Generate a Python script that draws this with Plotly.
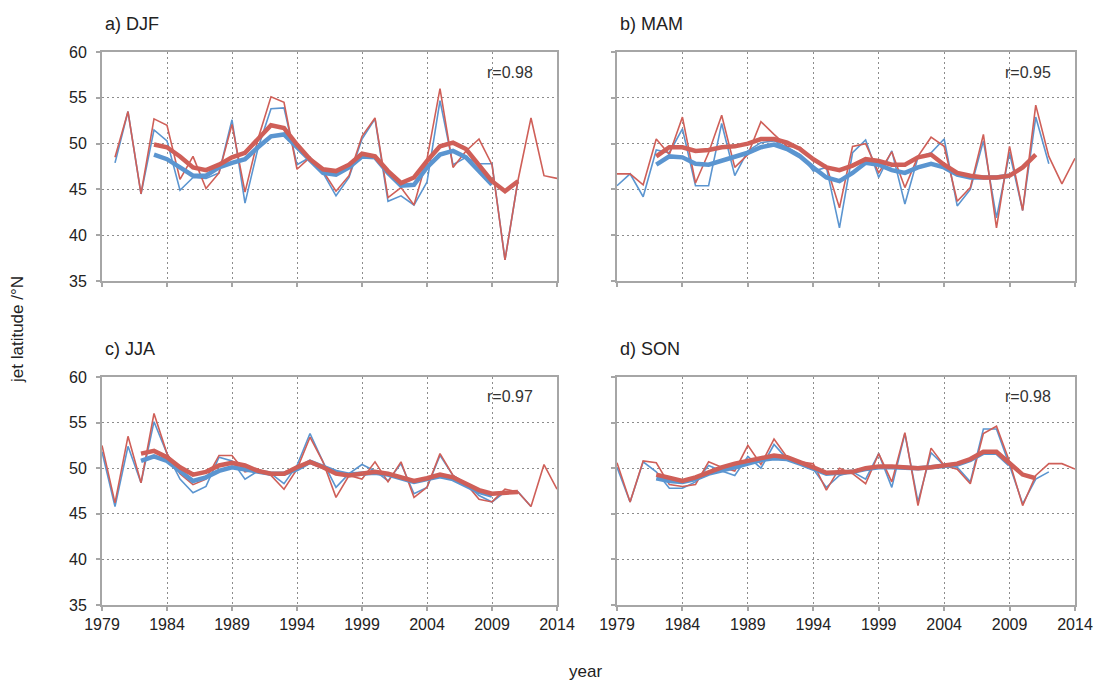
import plotly.graph_objects as go

years = list(range(1979, 2015))

# ---- DJF (panel a) ----
djf_years = list(range(1980, 2015))
djf_red = [48.5, 53.5, 44.5, 52.7, 52.0, 46.1, 48.6, 45.1, 46.8, 52.1, 44.7, 50.5, 55.1, 54.5, 47.2,
           48.5, 47.0, 44.8, 46.5, 50.8, 52.8, 44.1, 45.2, 43.3, 48.3, 56.0, 47.4, 49.2, 50.5, 47.7,
           37.3, 46.0, 52.8, 46.5, 46.2]
djf_blue_years = list(range(1980, 2012))
djf_blue = [47.9, 53.5, 44.5, 51.5, 50.3, 44.9, 46.3, 46.2, 46.8, 52.6, 43.5, 49.5, 53.8, 53.9, 47.7,
            48.5, 46.8, 44.3, 46.3, 50.5, 52.7, 43.7, 44.3, 43.3, 45.8, 54.7, 47.7, 48.5, 47.8, 47.8,
            37.3, 46.0]
djf_s_years = list(range(1983, 2012))
djf_red_s = [49.9, 49.6, 48.6, 47.4, 47.1, 47.7, 48.5, 49.0, 50.5, 52.0, 51.7, 49.9, 48.3, 47.2, 47.0,
             47.7, 48.9, 48.6, 47.0, 45.7, 46.3, 48.1, 49.7, 50.1, 49.4, 47.7, 45.9, 44.8, 45.9]
djf_sb_years = list(range(1983, 2010))
djf_blue_s = [48.8, 48.3, 47.4, 46.5, 46.5, 47.4, 47.9, 48.3, 49.6, 50.8, 51.0, 49.6, 48.1, 46.8, 46.6,
              47.4, 48.6, 48.5, 46.8, 45.4, 45.5, 47.4, 48.8, 49.2, 48.5, 47.0, 45.5]

# ---- MAM (panel b) ----
mam_red = [46.7, 46.7, 45.5, 50.5, 48.8, 52.9, 45.7, 49.0, 53.1, 47.4, 48.8, 52.4, 51.0, 49.7, 49.6,
           48.1, 47.6, 43.0, 49.7, 50.0, 46.8, 49.1, 45.2, 48.6, 50.7, 49.7, 43.7, 45.2, 51.0, 40.8,
           49.7, 42.7, 54.2, 48.6, 45.6, 48.4]
mam_blue_years = list(range(1979, 2013))
mam_blue = [45.4, 46.7, 44.2, 49.3, 49.0, 51.6, 45.4, 45.4, 52.2, 46.5, 49.2, 50.1, 50.3, 49.6, 48.8,
            47.0, 47.4, 40.8, 49.0, 50.4, 46.3, 49.2, 43.4, 48.5, 49.0, 50.5, 43.2, 45.0, 50.3, 41.9,
            49.0, 42.7, 52.9, 47.8]
mam_s_years = list(range(1982, 2012))
mam_red_s = [48.6, 49.6, 49.6, 49.2, 49.3, 49.6, 49.7, 50.0, 50.5, 50.5, 50.1, 49.4, 48.3, 47.4, 47.1,
             47.6, 48.3, 48.1, 47.7, 47.7, 48.5, 48.8, 47.7, 46.8, 46.5, 46.3, 46.3, 46.5, 47.4, 48.8]
mam_sb_years = list(range(1982, 2010))
mam_blue_s = [47.7, 48.6, 48.5, 47.8, 47.7, 48.1, 48.6, 49.0, 49.6, 49.9, 49.4, 48.6, 47.4, 46.3, 45.9,
              46.8, 47.9, 47.7, 47.1, 46.8, 47.4, 47.8, 47.4, 46.6, 46.3, 46.3, 46.3, 46.5]

# ---- JJA (panel c) ----
jja_red = [52.5, 46.2, 53.5, 48.4, 56.0, 51.6, 49.4, 48.2, 48.8, 51.4, 51.4, 49.6, 49.9, 49.2, 47.7,
           49.9, 53.4, 50.7, 46.8, 49.2, 48.8, 50.7, 48.5, 50.7, 46.8, 47.9, 51.6, 49.2, 48.3, 46.6,
           46.3, 47.7, 47.4, 45.8, 50.4, 47.7]
jja_blue_years = list(range(1979, 2013))
jja_blue = [51.8, 45.8, 52.4, 48.4, 55.1, 51.6, 48.8, 47.3, 48.0, 51.2, 50.8, 48.8, 49.7, 49.4, 48.3,
            50.3, 53.8, 50.7, 47.9, 49.4, 50.4, 49.7, 48.6, 50.5, 47.2, 47.9, 51.4, 49.2, 48.3, 47.0,
            46.3, 47.4, 47.4, 45.8]
jja_s_years = list(range(1982, 2012))
jja_red_s = [51.6, 51.9, 51.2, 50.1, 49.3, 49.6, 50.3, 50.6, 50.3, 49.7, 49.4, 49.4, 50.1, 50.7, 50.1,
             49.4, 49.2, 49.4, 49.6, 49.4, 49.0, 48.6, 48.9, 49.3, 49.0, 48.3, 47.6, 47.2, 47.3, 47.4]
jja_sb_years = list(range(1982, 2010))
jja_blue_s = [50.8, 51.3, 50.8, 49.7, 48.6, 49.0, 49.7, 50.1, 49.9, 49.6, 49.4, 49.4, 49.9, 50.7, 50.1,
              49.6, 49.3, 49.4, 49.5, 49.3, 48.9, 48.5, 48.8, 49.1, 48.8, 48.1, 47.4, 47.0]

# ---- SON (panel d) ----
son_red = [50.6, 46.3, 50.8, 50.6, 48.2, 48.0, 48.2, 50.7, 50.1, 49.7, 52.5, 50.4, 53.2, 51.2, 50.7,
           50.5, 47.6, 50.0, 49.4, 48.3, 51.6, 48.5, 53.9, 45.9, 52.2, 50.3, 49.9, 48.3, 53.8, 54.6,
           50.7, 45.9, 49.2, 50.5, 50.5, 49.9]
son_blue_years = list(range(1979, 2013))
son_blue = [50.1, 46.3, 50.7, 49.6, 47.8, 47.8, 48.5, 50.3, 49.7, 49.2, 51.3, 50.0, 52.6, 51.0, 50.5,
            49.9, 47.9, 49.2, 49.6, 48.8, 51.6, 47.9, 53.8, 46.3, 51.7, 50.3, 50.1, 48.5, 54.3, 54.3,
            50.3, 46.1, 48.8, 49.6]
son_s_years = list(range(1982, 2012))
son_red_s = [49.3, 48.9, 48.6, 49.0, 49.6, 50.1, 50.5, 50.8, 51.2, 51.4, 51.2, 50.7, 50.1, 49.5, 49.5,
             49.6, 50.0, 50.2, 50.2, 50.1, 50.0, 50.1, 50.3, 50.5, 51.0, 51.8, 51.8, 50.5, 49.3, 48.9]
son_sb_years = list(range(1982, 2010))
son_blue_s = [48.9, 48.6, 48.5, 48.8, 49.4, 49.7, 50.1, 50.5, 50.9, 51.1, 51.0, 50.5, 49.9, 49.4, 49.5,
              49.6, 49.9, 50.1, 50.1, 50.0, 50.0, 50.1, 50.2, 50.4, 50.9, 51.7, 51.7, 50.4]

panel_titles = ["a) DJF", "b) MAM", "c) JJA", "d) SON"]
r_labels = ["r=0.98", "r=0.95", "r=0.97", "r=0.98"]
x_ticks = list(range(1979, 2015, 5))
y_ticks = [35, 40, 45, 50, 55, 60]

RED = "#cf5f58"
BLUE = "#5b95d0"
W, H = 1100, 684

panels = [
    (djf_years, djf_red, djf_blue_years, djf_blue, djf_s_years, djf_red_s, djf_sb_years, djf_blue_s),
    (years, mam_red, mam_blue_years, mam_blue, mam_s_years, mam_red_s, mam_sb_years, mam_blue_s),
    (years, jja_red, jja_blue_years, jja_blue, jja_s_years, jja_red_s, jja_sb_years, jja_blue_s),
    (years, son_red, son_blue_years, son_blue, son_s_years, son_red_s, son_sb_years, son_blue_s),
]

# pixel boxes of the four panels
xdoms = [(102, 557), (617, 1075)]
ydoms = [(52, 281), (377, 605)]

fig = go.Figure()
layout = {}
annotations = []
font = "Liberation Sans"
for i, p in enumerate(panels):
    row, col = divmod(i, 2)
    n = i + 1
    xa = "x" if n == 1 else f"x{n}"
    ya = "y" if n == 1 else f"y{n}"
    ry, rr, by, bb, sy, sr, sby, sb = p
    fig.add_trace(go.Scatter(x=by, y=bb, mode="lines", line=dict(color=BLUE, width=1.6),
                             xaxis=xa, yaxis=ya, showlegend=False))
    fig.add_trace(go.Scatter(x=ry, y=rr, mode="lines", line=dict(color=RED, width=1.6),
                             xaxis=xa, yaxis=ya, showlegend=False))
    fig.add_trace(go.Scatter(x=sby, y=sb, mode="lines", line=dict(color=BLUE, width=4.5),
                             xaxis=xa, yaxis=ya, showlegend=False))
    fig.add_trace(go.Scatter(x=sy, y=sr, mode="lines", line=dict(color=RED, width=4.5),
                             xaxis=xa, yaxis=ya, showlegend=False))
    x0, x1 = xdoms[col]
    y0, y1 = ydoms[row]
    common = dict(showline=True, linecolor="#a6a6a6", linewidth=2, mirror=True,
                  ticks="outside", ticklen=4, tickcolor="#a6a6a6", tickwidth=1.5,
                  showgrid=True, gridcolor="#8c8c8c", griddash="2px,3px", gridwidth=1,
                  zeroline=False, automargin=False,
                  tickfont=dict(family=font, size=16, color="#222"))
    layout["xaxis" if n == 1 else f"xaxis{n}"] = dict(
        common, domain=[x0 / W, x1 / W], range=[1979, 2014], tickvals=x_ticks,
        showticklabels=(row == 1), anchor=ya)
    layout["yaxis" if n == 1 else f"yaxis{n}"] = dict(
        common, domain=[1 - y1 / H, 1 - y0 / H], range=[35, 60], tickvals=y_ticks,
        showticklabels=(col == 0), anchor=xa, ticklabelstandoff=6)
    annotations.append(dict(text=panel_titles[i], x=(x0 + 1) / W, y=1 - (y0 - 28) / H,
                            xref="paper", yref="paper", xanchor="left", yanchor="middle",
                            showarrow=False, font=dict(family=font, size=18, color="#222")))
    annotations.append(dict(text=r_labels[i], x=(x1 - 22) / W, y=1 - (y0 + 20) / H,
                            xref="paper", yref="paper", xanchor="right", yanchor="middle",
                            showarrow=False, font=dict(family=font, size=16, color="#333")))

annotations.append(dict(text="jet latitude /°N", x=18 / W, y=1 - 330 / H, xref="paper", yref="paper",
                        textangle=-90, showarrow=False, xanchor="center", yanchor="middle",
                        font=dict(family=font, size=17, color="#222")))
annotations.append(dict(text="year", x=585 / W, y=1 - 671 / H, xref="paper", yref="paper",
                        showarrow=False, xanchor="center", yanchor="middle",
                        font=dict(family=font, size=17, color="#222")))

fig.update_layout(**layout, annotations=annotations, width=W, height=H,
                  margin=dict(l=0, r=0, t=0, b=0), plot_bgcolor="white", paper_bgcolor="white")
fig.write_html("out.html")
